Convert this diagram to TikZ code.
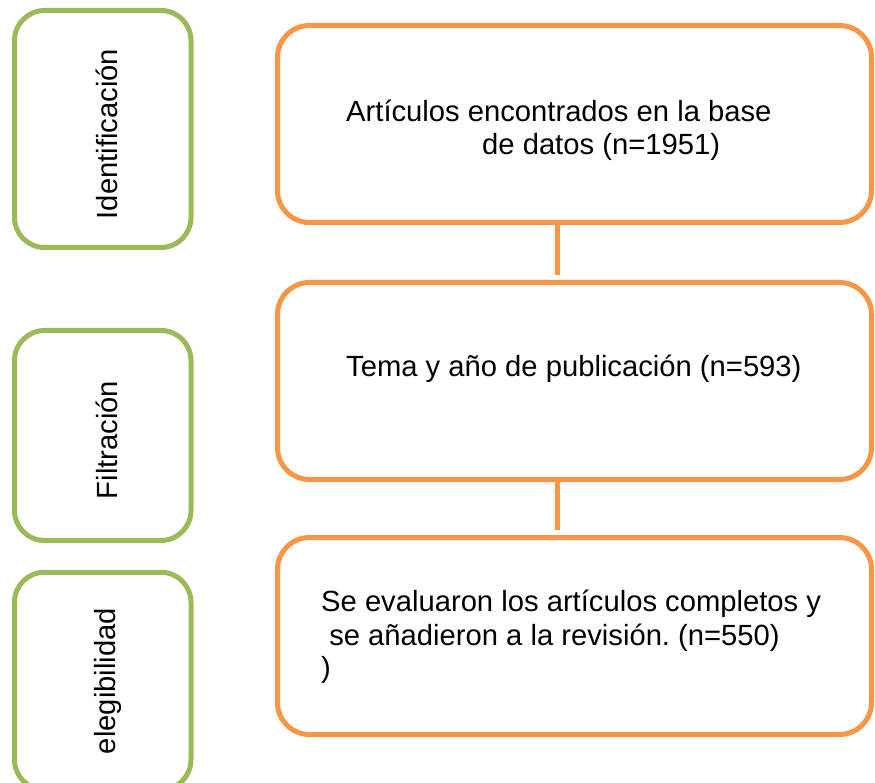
\documentclass[tikz,border=0pt]{standalone}
\usepackage{fontspec}
\setmainfont{Liberation Sans}
\frenchspacing
\definecolor{gborder}{HTML}{9BBB59}
\definecolor{oborder}{HTML}{F79646}
\tikzset{
  gbox/.style={draw=gborder, line width=5pt, rounded corners=30pt, fill=white, inner sep=0pt, minimum width=176.5pt},
  obox/.style={draw=oborder, line width=5pt, rounded corners=32pt, fill=white, inner sep=0pt, minimum width=594pt, minimum height=197pt},
  conn/.style={draw=oborder, line width=5pt, shorten >=5pt},
  lbl/.style={font=\fontsize{29.2}{35}\selectfont, inner sep=0pt, text=black},
  vlbl/.style={lbl, rotate=90, anchor=base},
  hlbl/.style={lbl, anchor=base west}
}
\begin{document}
\begin{tikzpicture}[x=1pt,y=-1pt]
\useasboundingbox (0,0) rectangle (875,783);
\clip (0,0) rectangle (875,783);
% green stage boxes
\node[gbox, minimum height=237pt] (g1) at (102.75,129) {};
\node[gbox, minimum height=210pt] (g2) at (102.75,435.5) {};
\node[gbox, minimum height=217.5pt] (g3) at (102.75,681) {};
\node[vlbl] (lg1) at (117,134) {Identificación};
\node[vlbl] (lg2) at (117,440) {Filtración};
\node[vlbl] (lg3) at (115,681) {elegibilidad};
% orange boxes
\node[obox] (o1) at (574.5,124) {};
\node[obox] (o2) at (574.5,381) {};
\node[obox] (o3) at (574.5,636) {};
% connectors
\coordinate (cx) at (557,0);
\draw[conn] (o1.south -| cx) -- (o2.north -| cx);
\draw[conn] (o2.south -| cx) -- (o3.north -| cx);
% texts
\node[hlbl] (t1a) at (346,122) {Artículos encontrados en la base};
\node[hlbl] (t1b) at (482,155) {de datos (n=1951)};
\node[hlbl] (t2) at (346,377) {Tema y año de publicación (n=593)};
\node[hlbl] (t3a) at (321,611) {Se evaluaron los artículos completos y};
\node[hlbl] (t3b) at (321,645) {\ se añadieron a la revisión. (n=550)};
\node[hlbl] (t3c) at (321,677) {)};
\end{tikzpicture}
\end{document}
